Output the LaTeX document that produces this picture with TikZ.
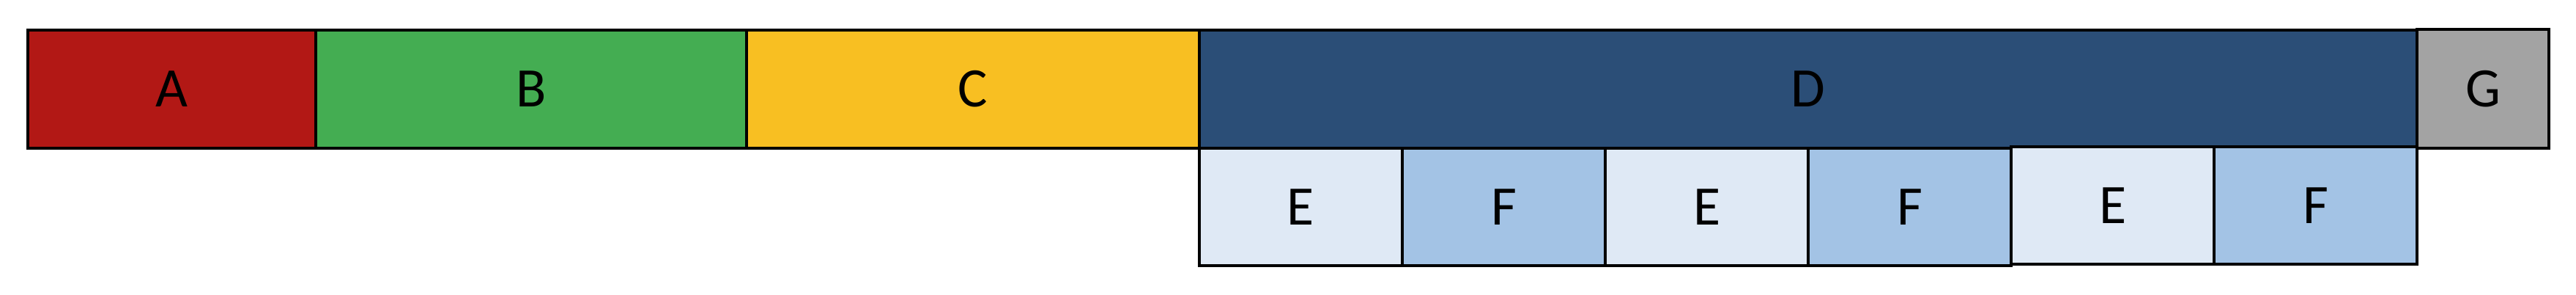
\documentclass[tikz,border=0pt]{standalone}
\usepackage{fontspec}
\setmainfont{Carlito}
\usepackage{tikz}
\usetikzlibrary{positioning}

\definecolor{cA}{HTML}{B21815}
\definecolor{cB}{HTML}{44AD52}
\definecolor{cC}{HTML}{F8BF22}
\definecolor{cD}{HTML}{2B4E77}
\definecolor{cG}{HTML}{A3A3A3}
\definecolor{cE}{HTML}{DFE9F5}
\definecolor{cF}{HTML}{A3C3E5}

\begin{document}
\begin{tikzpicture}
                [blk/.style={rectangle,draw,line width=1.15pt,inner sep=0pt,outer sep=0pt,
                minimum height=1.61cm,font=\fontsize{21.6}{26}\selectfont},
                node distance=0cm,
                lite/.style={blk,fill=cE,minimum width=2.77cm,minimum height=1.60cm},
                mid/.style={blk,fill=cF,minimum width=2.77cm,minimum height=1.60cm}]
                \useasboundingbox (0,0) rectangle (35.16,4.01);
                \node[blk,fill=cA,minimum width=3.93cm,anchor=north west] (a) at (0.38,3.60){A};
                \node[blk,fill=cB,minimum width=5.88cm] (b)[right=of a]{B};
                \node[blk,fill=cC,minimum width=6.18cm] (c)[right=of b]{C};
                \node[blk,fill=cD,minimum width=16.62cm] (d)[right=of c]{D};
                \node[blk,fill=cG,minimum width=1.80cm,minimum height=1.62cm,anchor=south west] (g) at (d.south east){G};
                \node[lite] (e1)[below right=of d.south west]{E};
                \node[mid] (f1)[right=of e1]{F};
                \node[lite] (e2)[right=of f1]{E};
                \node[mid] (f2)[right=of e2]{F};
                \node[lite,yshift=0.02cm] (e3)[right=of f2]{E};
                \node[mid] (f3)[right=of e3]{F};
            \end{tikzpicture}
\end{document}
